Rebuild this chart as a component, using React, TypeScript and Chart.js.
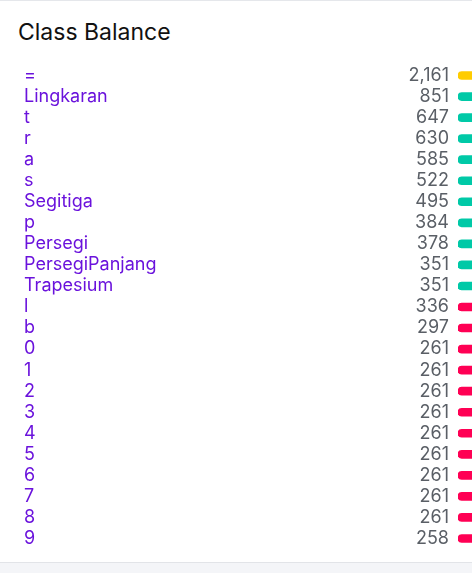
import React, { useEffect, useRef } from "react";
import { Chart, registerables } from "chart.js";

Chart.register(...registerables);

const classNames = [
  "=", "Lingkaran", "t", "r", "a", "s", "Segitiga", "p", "Persegi", "PersegiPanjang",
  "Trapesium", "l", "b", "0", "1", "2", "3", "4", "5", "6", "7", "8", "9",
];
const classCounts = [
  2161, 851, 647, 630, 585, 522, 495, 384, 378, 351,
  351, 336, 297, 261, 261, 261, 261, 261, 261, 261, 261, 261, 258,
];
const countLabels = classCounts.map((v) => v.toLocaleString("en-US"));

const YELLOW = "#ffcc00";
const TEAL = "#00c9a7";
const RED = "#ff0054";

function tierColor(v: number): string {
  if (v > 1000) return YELLOW;
  if (v >= 350) return TEAL;
  return RED;
}

export default function App() {
  const ref = useRef<HTMLCanvasElement | null>(null);

  useEffect(() => {
    if (!ref.current) return;
    const chart = new Chart(ref.current, {
      type: "bar",
      data: {
        labels: classNames,
        datasets: [
          {
            data: classCounts,
            backgroundColor: classCounts.map(tierColor),
            barThickness: 8,
            borderRadius: 4,
            borderSkipped: false,
            yAxisID: "y",
          },
        ],
      },
      options: {
        indexAxis: "y",
        animation: false,
        responsive: false,
        layout: { padding: { left: 24, top: 65, bottom: 14, right: 0 } },
        plugins: {
          legend: { display: false },
          tooltip: { enabled: false },
          title: { display: false },
        },
        scales: {
          x: { display: false, min: 0, max: 10 },
          y: {
            type: "category",
            position: "left",
            weight: 1,
            offset: true,
            grid: { display: false, drawTicks: false },
            border: { display: false },
            ticks: {
              crossAlign: "far",
              color: "#6a12dc",
              font: { family: "Inter", size: 18 },
              padding: 0,
              autoSkip: false,
            },
            afterFit: (s: any) => {
              s.width = 200;
            },
          },
          y2: {
            type: "category",
            position: "left",
            weight: 0,
            labels: countLabels,
            offset: true,
            grid: { display: false, offset: true, drawTicks: true, tickLength: 9 },
            border: { display: false },
            ticks: {
              crossAlign: "near",
              color: "#5a5f66",
              font: { family: "Inter", size: 18 },
              padding: 0,
              autoSkip: false,
            },
            afterFit: (s: any) => {
              s.width = 234;
            },
          },
        },
      },
    });
    return () => chart.destroy();
  }, []);

  return (
    <div
      style={{
        position: "absolute",
        left: 0,
        top: 0,
        width: 472,
        height: 573,
        background: "#f4f5f8",
        overflow: "hidden",
      }}
    >
      <div
        style={{
          position: "absolute",
          left: 0,
          top: 0,
          width: 472,
          height: 563,
          background: "#ffffff",
          borderTop: "1px solid #e5e7eb",
          borderBottom: "1px solid #e2e4e8",
          boxSizing: "border-box",
        }}
      />
      <div
        style={{
          position: "absolute",
          left: 18,
          top: 18,
          fontFamily: "Inter",
          fontSize: 23,
          lineHeight: "28px",
          color: "#111111",
          whiteSpace: "nowrap",
        }}
      >
        Class Balance
      </div>
      <canvas
        ref={ref}
        width={472}
        height={563}
        style={{ position: "absolute", left: 0, top: 0, width: 472, height: 563 }}
      />
    </div>
  );
}
